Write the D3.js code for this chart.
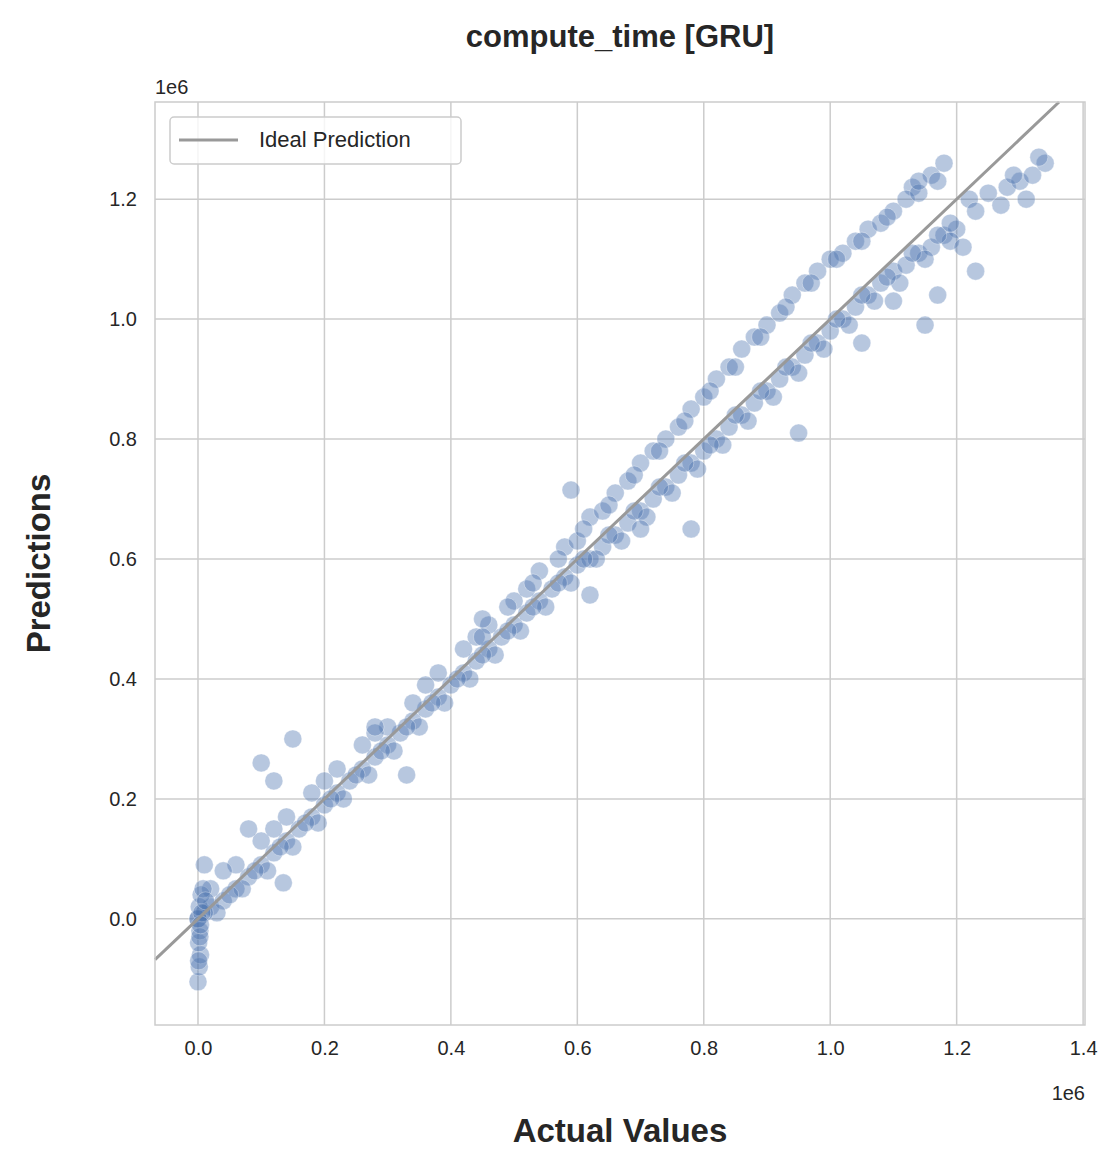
<!DOCTYPE html>
<html>
<head>
<meta charset="utf-8">
<script src="https://cdn.jsdelivr.net/npm/d3@7"></script>
<style>
  body { margin: 0; background: #fff; }
  text { font-family: "Liberation Sans", Arial, sans-serif; fill: #262626; }
</style>
</head>
<body>
<div id="chart"></div>
<script>
// data (values in units of 1e6)
var lowerActual = [0.00,0.02,0.04,0.06,0.08,0.10,0.12,0.14,0.16,0.18,0.20,0.22,0.24,0.26,0.28,0.30,0.32,0.34,0.36,0.38,0.40,0.42,0.44,0.46,0.48,0.50,0.52,0.54,0.56,0.58,0.60,0.62,0.64,0.66,0.68,0.70,0.72,0.74,0.76,0.78,0.80,0.82,0.84,0.86,0.88,0.90,0.92,0.94,0.96,0.98,1.00,1.02,1.04,1.06,1.08,1.10,1.12,1.14,1.16,1.18,1.20,1.22,1.25,1.28,1.30,1.32,1.34,1.27,1.31];
var lowerPred   = [0.00,0.02,0.03,0.05,0.07,0.09,0.11,0.13,0.15,0.17,0.19,0.21,0.23,0.25,0.27,0.29,0.31,0.33,0.35,0.37,0.39,0.41,0.43,0.45,0.47,0.49,0.51,0.53,0.55,0.57,0.59,0.60,0.62,0.64,0.66,0.68,0.70,0.72,0.74,0.76,0.78,0.80,0.82,0.84,0.86,0.88,0.90,0.92,0.94,0.96,0.98,1.00,1.02,1.04,1.06,1.08,1.09,1.11,1.12,1.14,1.15,1.20,1.21,1.22,1.23,1.24,1.26,1.19,1.20];
var lower2Actual = [0.03,0.07,0.11,0.15,0.19,0.23,0.27,0.31,0.35,0.39,0.43,0.47,0.51,0.55,0.59,0.63,0.67,0.71,0.75,0.79,0.83,0.87,0.91,0.95,0.99,1.03,1.07,1.11,1.15,1.19,1.21];
var lower2Pred   = [0.01,0.05,0.08,0.12,0.16,0.20,0.24,0.28,0.32,0.36,0.40,0.44,0.48,0.52,0.56,0.60,0.63,0.67,0.71,0.75,0.79,0.83,0.87,0.91,0.95,0.99,1.03,1.06,1.10,1.13,1.12];
var lower3Actual = [0.01,0.05,0.09,0.13,0.17,0.21,0.25,0.29,0.33,0.37,0.41,0.45,0.49,0.53,0.57,0.61,0.65,0.69,0.73,0.77,0.81,0.85,0.89,0.93,0.97,1.01,1.05,1.09,1.13,1.17,1.19,1.23,1.29,1.33];
var lower3Pred   = [0.01,0.04,0.08,0.12,0.16,0.20,0.24,0.28,0.32,0.36,0.40,0.44,0.48,0.52,0.56,0.60,0.64,0.68,0.72,0.76,0.79,0.84,0.88,0.92,0.96,1.00,1.04,1.07,1.11,1.14,1.16,1.18,1.24,1.27];
var upperActual = [0.02,0.06,0.10,0.14,0.18,0.22,0.26,0.30,0.34,0.38,0.42,0.46,0.50,0.54,0.58,0.62,0.66,0.70,0.74,0.78,0.82,0.86,0.90,0.94,0.98,1.02,1.06,1.10,1.13,1.16,1.18,1.12,1.08];
var upperPred   = [0.05,0.09,0.13,0.17,0.21,0.25,0.29,0.32,0.36,0.41,0.45,0.49,0.53,0.58,0.62,0.67,0.71,0.76,0.80,0.85,0.90,0.95,0.99,1.04,1.08,1.11,1.15,1.18,1.22,1.24,1.26,1.20,1.16];
var upper2Actual = [0.04,0.12,0.20,0.28,0.36,0.44,0.52,0.60,0.64,0.68,0.72,0.76,0.80,0.84,0.88,0.92,0.96,1.00,1.04];
var upper2Pred   = [0.08,0.15,0.23,0.31,0.39,0.47,0.55,0.63,0.68,0.73,0.78,0.82,0.87,0.92,0.97,1.01,1.06,1.10,1.13];
var upper3Actual = [0.45,0.49,0.53,0.57,0.61,0.65,0.69,0.73,0.77,0.81,0.85,0.89,0.93,0.97,1.01,1.05,1.09,1.14,1.17];
var upper3Pred   = [0.47,0.52,0.56,0.60,0.65,0.69,0.74,0.78,0.83,0.88,0.92,0.97,1.02,1.06,1.10,1.13,1.17,1.21,1.23];
var zeroActual = [0.000,0.002,0.004,0.001,0.003,0.000,0.002,0.005,0.001,0.003,0.006,0.008,0.010,0.012,0.004];
var zeroPred   = [-0.105,-0.08,-0.06,-0.04,-0.02,0.00,0.02,0.04,-0.07,-0.03,0.01,0.05,0.09,0.03,-0.01];
var outlierActual = [0.10,0.15,0.12,0.08,0.135,0.28,0.62,0.78,0.95,1.05,1.10,1.15,1.17,1.23,1.14,0.70,0.59,0.45,0.33];
var outlierPred   = [0.26,0.30,0.23,0.15,0.06,0.32,0.54,0.65,0.81,0.96,1.03,0.99,1.04,1.08,1.23,0.65,0.715,0.50,0.24];
var xTicks = [0.0,0.2,0.4,0.6,0.8,1.0,1.2,1.4];
var yTicks = [0.0,0.2,0.4,0.6,0.8,1.0,1.2];

function pairs(a, b) { return a.map(function(v, i) { return {x: v, y: b[i]}; }); }
var points = [].concat(pairs(lowerActual, lowerPred), pairs(lower2Actual, lower2Pred),
  pairs(lower3Actual, lower3Pred),
  pairs(upperActual, upperPred), pairs(upper2Actual, upper2Pred), pairs(upper3Actual, upper3Pred),
  pairs(zeroActual, zeroPred), pairs(outlierActual, outlierPred));

var svgWidth = 1120, svgHeight = 1170;
var margin = {top: 102, right: 35, bottom: 145, left: 155};
var width = svgWidth - margin.left - margin.right;
var height = svgHeight - margin.top - margin.bottom;

var svg = d3.select("#chart").append("svg")
  .attr("width", svgWidth).attr("height", svgHeight);
var g = svg.append("g").attr("transform", `translate(${margin.left}, ${margin.top})`);

var x = d3.scaleLinear().domain([-0.068, 1.403]).range([0, width]);
var y = d3.scaleLinear().domain([-0.177, 1.362]).range([height, 0]);

// grid
g.selectAll(".gx").data(xTicks).enter().append("line")
  .attr("x1", d => x(d)).attr("x2", d => x(d)).attr("y1", 0).attr("y2", height)
  .attr("stroke", "#cccccc").attr("stroke-width", 1.5);
g.selectAll(".gy").data(yTicks).enter().append("line")
  .attr("y1", d => y(d)).attr("y2", d => y(d)).attr("x1", 0).attr("x2", width)
  .attr("stroke", "#cccccc").attr("stroke-width", 1.5);

// points
g.selectAll("circle").data(points).enter().append("circle")
  .attr("cx", d => x(d.x)).attr("cy", d => y(d.y)).attr("r", 9)
  .attr("fill", "#4c72b0").attr("fill-opacity", 0.4)
  .attr("stroke", "#ffffff").attr("stroke-opacity", 0.4).attr("stroke-width", 0.8);

// ideal line
g.append("line")
  .attr("x1", x(-0.068)).attr("y1", y(-0.068))
  .attr("x2", x(1.362)).attr("y2", y(1.362))
  .attr("stroke", "#999999").attr("stroke-width", 3);

// frame
g.append("rect").attr("width", width).attr("height", height)
  .attr("fill", "none").attr("stroke", "#cccccc").attr("stroke-width", 1.5);

// axes
var xAxis = g.append("g").attr("transform", `translate(0, ${height})`)
  .call(d3.axisBottom(x).tickValues(xTicks).tickFormat(d3.format(".1f")).tickSize(0).tickPadding(16));
var yAxis = g.append("g")
  .call(d3.axisLeft(y).tickValues(yTicks).tickFormat(d3.format(".1f")).tickSize(0).tickPadding(18));
[xAxis, yAxis].forEach(function(a) {
  a.select(".domain").remove();
  a.selectAll("text").attr("font-size", "20px").attr("fill", "#262626")
    .attr("font-family", "Liberation Sans, Arial, sans-serif");
});

// offset labels
svg.append("text").attr("x", 155).attr("y", 94).attr("font-size", "20px").text("1e6");
svg.append("text").attr("x", 1085).attr("y", 1100).attr("font-size", "20px")
  .attr("text-anchor", "end").text("1e6");

// titles
svg.append("text").attr("x", 620).attr("y", 47).attr("text-anchor", "middle")
  .attr("font-size", "31px").attr("font-weight", "bold").text("compute_time [GRU]");
svg.append("text").attr("x", 620).attr("y", 1142).attr("text-anchor", "middle")
  .attr("font-size", "33px").attr("font-weight", "bold").text("Actual Values");
svg.append("text").attr("transform", `translate(50, ${margin.top + height / 2}) rotate(-90)`)
  .attr("text-anchor", "middle").attr("font-size", "33px").attr("font-weight", "bold").text("Predictions");

// legend
var lg = svg.append("g").attr("transform", "translate(170, 117)");
lg.append("rect").attr("width", 291).attr("height", 47).attr("rx", 4)
  .attr("fill", "#ffffff").attr("fill-opacity", 0.8).attr("stroke", "#cccccc").attr("stroke-width", 1.5);
lg.append("line").attr("x1", 9).attr("x2", 68).attr("y1", 23).attr("y2", 23)
  .attr("stroke", "#999999").attr("stroke-width", 3);
lg.append("text").attr("x", 89).attr("y", 30).attr("font-size", "22px").text("Ideal Prediction");
</script>
</body>
</html>
